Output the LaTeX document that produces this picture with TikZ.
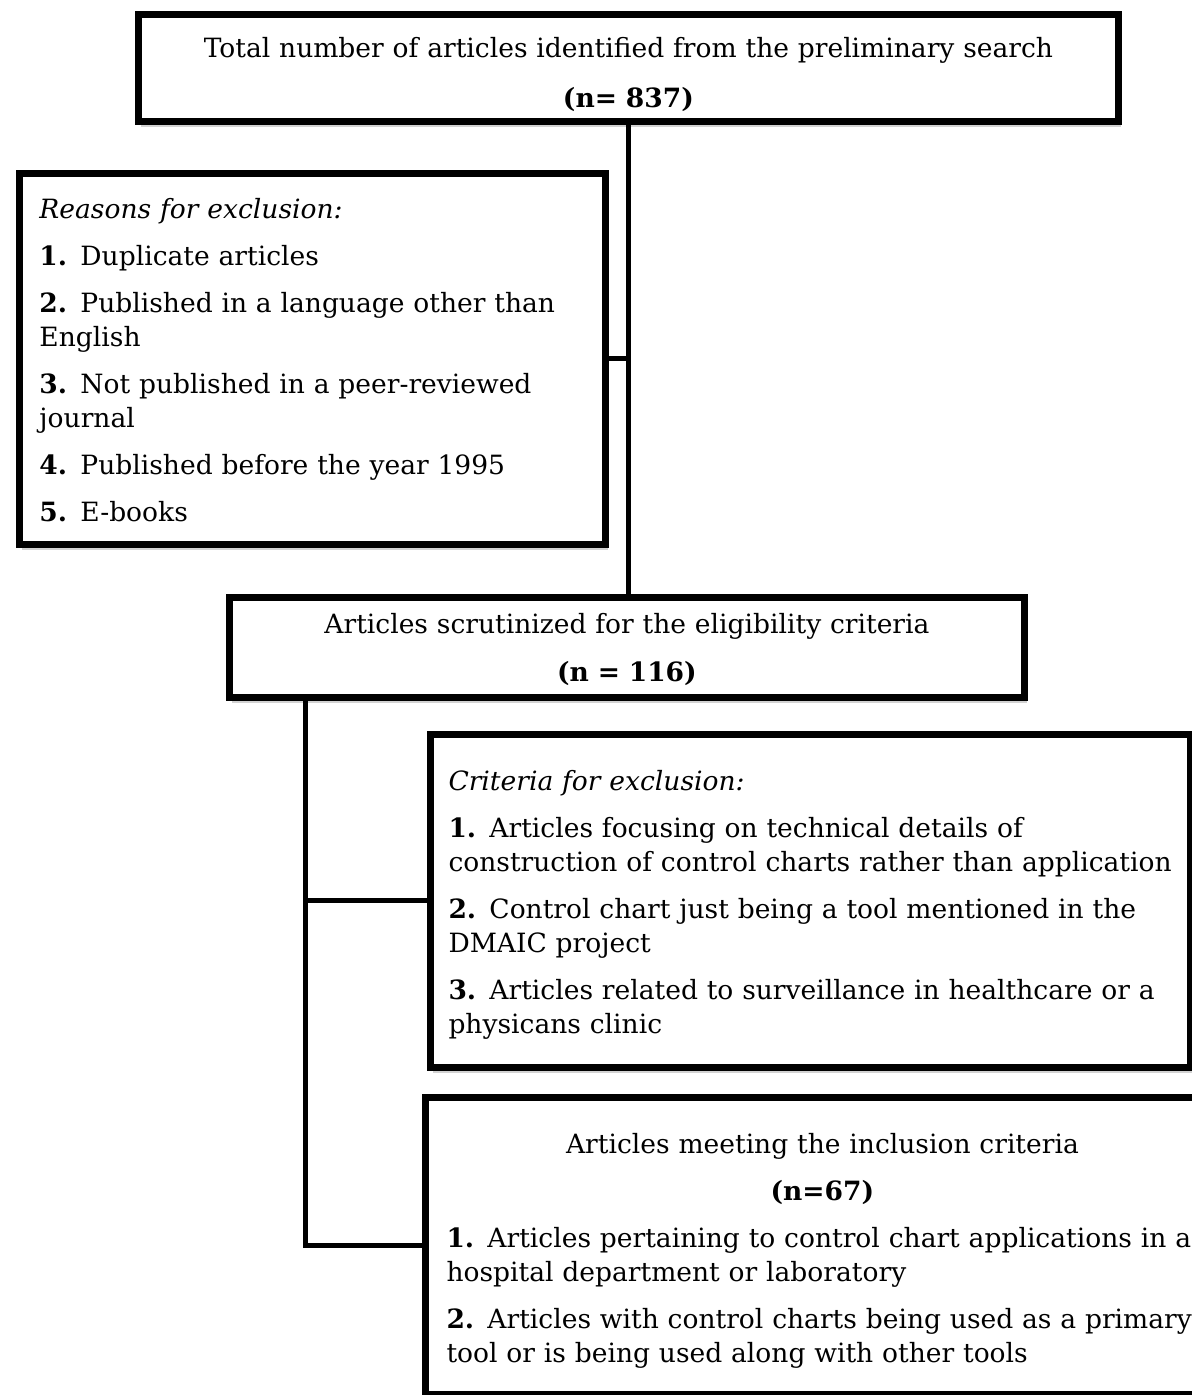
\documentclass[tikz,border=0pt]{standalone}
\usepackage{fontspec}
\setmainfont{DejaVu Serif}[WordSpace=0.85]
\usepackage{tikz}
\usetikzlibrary{shadows}
\tikzstyle{flowbox}=[draw,line width=0.14cm,fill=white,anchor=north west,inner ysep=0pt,
  font=\fontsize{15.1}{19.35}\selectfont,
  drop shadow={shadow xshift=0.05cm,shadow yshift=-0.12cm,fill=black!25,opacity=0.7}]
\tikzstyle{wire}=[line width=0.1cm]

\begin{document}
\begin{tikzpicture}[x=0.02cm,y=-0.02cm]
  \useasboundingbox (0,0) rectangle (1191,1395);
  %%% search result
  \node[flowbox,align=center,inner xsep=0pt,text width=19.6cm,text height=0.86cm,text depth=1.28cm] (total) at (135,11)
    {Total number of articles identified from the preliminary search\\[0.32cm]\textbf{(n= 837)}};
  %%% first exclusion
  \node[flowbox,align=left,inner xsep=0.4cm,text width=10.92cm,text height=0.9cm,text depth=6.52cm] (reasons) at (16,170)
    {\textit{Reasons for exclusion:}\\[0.26cm]
     \textbf{1.} Duplicate articles\\[0.26cm]
     \textbf{2.} Published in a language other than\\English\\[0.26cm]
     \textbf{3.} Not published in a peer-reviewed\\journal\\[0.26cm]
     \textbf{4.} Published before the year 1995\\[0.26cm]
     \textbf{5.} E-books};
  %%% eligibility
  \node[flowbox,align=center,inner xsep=0pt,text width=15.9cm,text height=0.72cm,text depth=1.28cm] (scrut) at (226,594)
    {Articles scrutinized for the eligibility criteria\\[0.28cm]\textbf{(n = 116)}};
  %%% second exclusion
  \node[flowbox,align=left,inner xsep=0.36cm,text width=14.48cm,text height=1.12cm,text depth=5.54cm] (crit) at (427,731)
    {\textit{Criteria for exclusion:}\\[0.26cm]
     \textbf{1.} Articles focusing on technical details of\\construction of control charts rather than application\\[0.26cm]
     \textbf{2.} Control chart just being a tool mentioned in the\\DMAIC project\\[0.26cm]
     \textbf{3.} Articles related to surveillance in healthcare or a\\physicans clinic};
  %%% inclusion
  \node[flowbox,align=left,inner xsep=0.42cm,text width=15.04cm,text height=1.12cm,text depth=4.82cm] (incl) at (422,1094)
    {\makebox[\hsize]{Articles meeting the inclusion criteria}\\[0.26cm]
     \makebox[\hsize]{\textbf{(n=67)}}\\[0.26cm]
     \textbf{1.} Articles pertaining to control chart applications in a\\hospital department or laboratory\\[0.26cm]
     \textbf{2.} Articles with control charts being used as a primary\\tool or is being used along with other tools};
  %% the links
  \draw[wire] (total.south) -- (total.south |- scrut.north);
  \draw[wire] (reasons.east) -- (reasons.east -| total.south);
  \coordinate (spine) at (305,694);
  \draw[wire] (spine) |- (incl.west);
  \draw[wire] (crit.west) -- (crit.west -| spine);
\end{tikzpicture}
\end{document}
